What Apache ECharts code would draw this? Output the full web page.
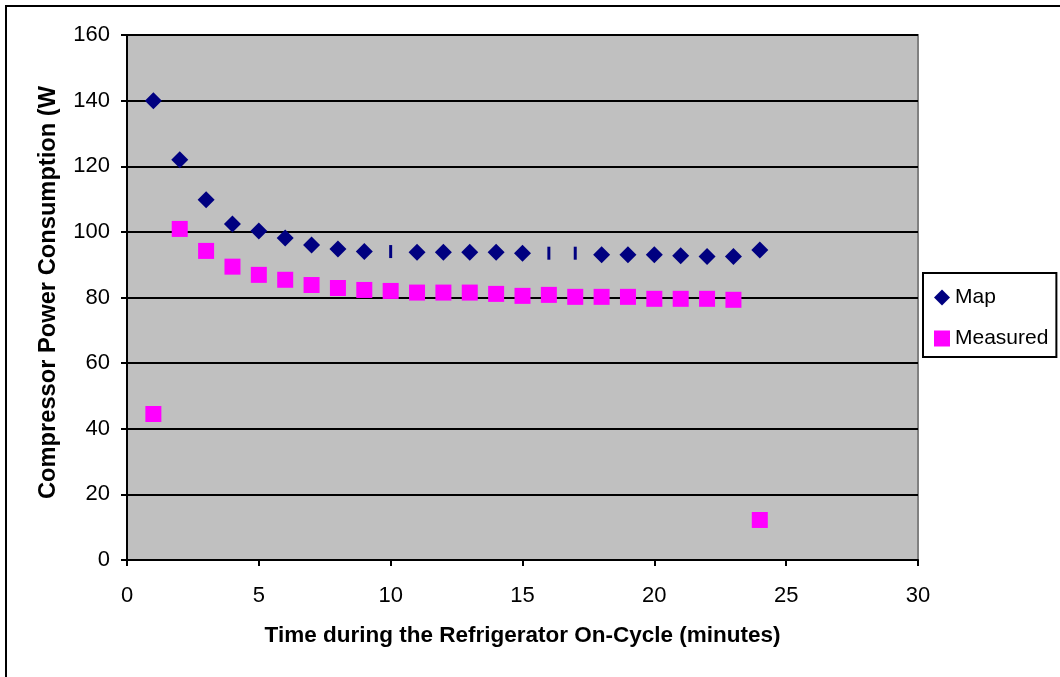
<!DOCTYPE html>
<html>
<head>
<meta charset="utf-8">
<script src="https://cdn.jsdelivr.net/npm/echarts@6/dist/echarts.min.js"></script>
<style>html,body{margin:0;padding:0;background:#fff}#c{width:1060px;height:677px}</style>
</head>
<body>
<div id="c"></div>
<script>
const minutes = [1,2,3,4,5,6,7,8,9,10,11,12,13,14,15,16,17,18,19,20,21,22,23,24];
const mapValues = [140,122,109.8,102.4,100.3,98.1,96.0,94.8,94.0,94.0,93.8,93.8,93.8,93.8,93.5,93.5,93.5,93.0,93.0,93.0,92.7,92.5,92.5,94.5];
const measuredValues = [44.5,100.9,94.2,89.4,86.9,85.4,83.8,82.9,82.3,82.0,81.5,81.5,81.5,81.1,80.5,80.8,80.2,80.2,80.2,79.6,79.6,79.6,79.3,12.2];
const yTicks = [0,20,40,60,80,100,120,140,160];
const xTicks = [0,5,10,15,20,25,30];
// points whose marker rendered as a thin bar in the reference
const thinMarkerMinutes = [10,16,17];

const font = 'Arial, "Liberation Sans", sans-serif';
const chart = echarts.init(document.getElementById('c'), null, {renderer:'canvas'});

const mapData = minutes.map((m,i) => {
  const d = {value:[m, mapValues[i]]};
  if (thinMarkerMinutes.includes(m)) { d.symbol = 'rect'; d.symbolSize = [3, 13]; }
  return d;
});
const measuredData = minutes.map((m,i) => [m, measuredValues[i]]);

chart.setOption({
  animation:false,
  backgroundColor:'#fff',
  graphic:[{type:'rect', x:0, y:0, shape:{x:6, y:6, width:1100, height:720}, style:{fill:null, stroke:'#000', lineWidth:2}, z:-1}],
  grid:{left:127, top:35, right:142, bottom:117, show:true, backgroundColor:'#c0c0c0', borderColor:'#808080', borderWidth:2},
  xAxis:{type:'value', min:xTicks[0], max:xTicks[xTicks.length-1], interval:5,
    name:'Time during the Refrigerator On-Cycle (minutes)', nameLocation:'middle', nameGap:64,
    nameTextStyle:{fontFamily:font, fontSize:22.5, fontWeight:'bold', color:'#000'},
    axisLine:{lineStyle:{color:'#000', width:2}}, axisTick:{show:true, length:6, lineStyle:{color:'#000', width:2}},
    axisLabel:{fontFamily:font, fontSize:22, color:'#000', margin:25},
    splitLine:{show:false}},
  yAxis:{type:'value', min:yTicks[0], max:yTicks[yTicks.length-1], interval:20,
    name:'Compressor Power Consumption (W', nameLocation:'middle', nameGap:67,
    nameTextStyle:{fontFamily:font, fontSize:23.7, fontWeight:'bold', color:'#000', padding:[0,0,0,10]},
    axisLine:{show:true, lineStyle:{color:'#000', width:2}}, axisTick:{show:true, length:6, lineStyle:{color:'#000', width:2}},
    axisLabel:{fontFamily:font, fontSize:22, color:'#000', margin:17},
    splitLine:{show:true, lineStyle:{color:'#000', width:2}}},
  legend:{orient:'vertical', left:923, top:273,
    backgroundColor:'#fff', borderColor:'#000', borderWidth:2, padding:[14,8,8,11],
    itemGap:20, itemWidth:16, itemHeight:16,
    textStyle:{fontFamily:font, fontSize:21, color:'#000'},
    data:[{name:'Map', icon:'diamond', itemStyle:{color:'#000080'}},{name:'Measured', icon:'rect', itemStyle:{color:'#ff00ff'}}]},
  series:[
    {name:'Map', type:'scatter', symbol:'diamond', symbolSize:17, itemStyle:{color:'#000080', opacity:1}, data:mapData, z:3},
    {name:'Measured', type:'scatter', symbol:'rect', symbolSize:16, itemStyle:{color:'#ff00ff', opacity:1}, data:measuredData, z:2}
  ]
});
</script>
</body>
</html>
